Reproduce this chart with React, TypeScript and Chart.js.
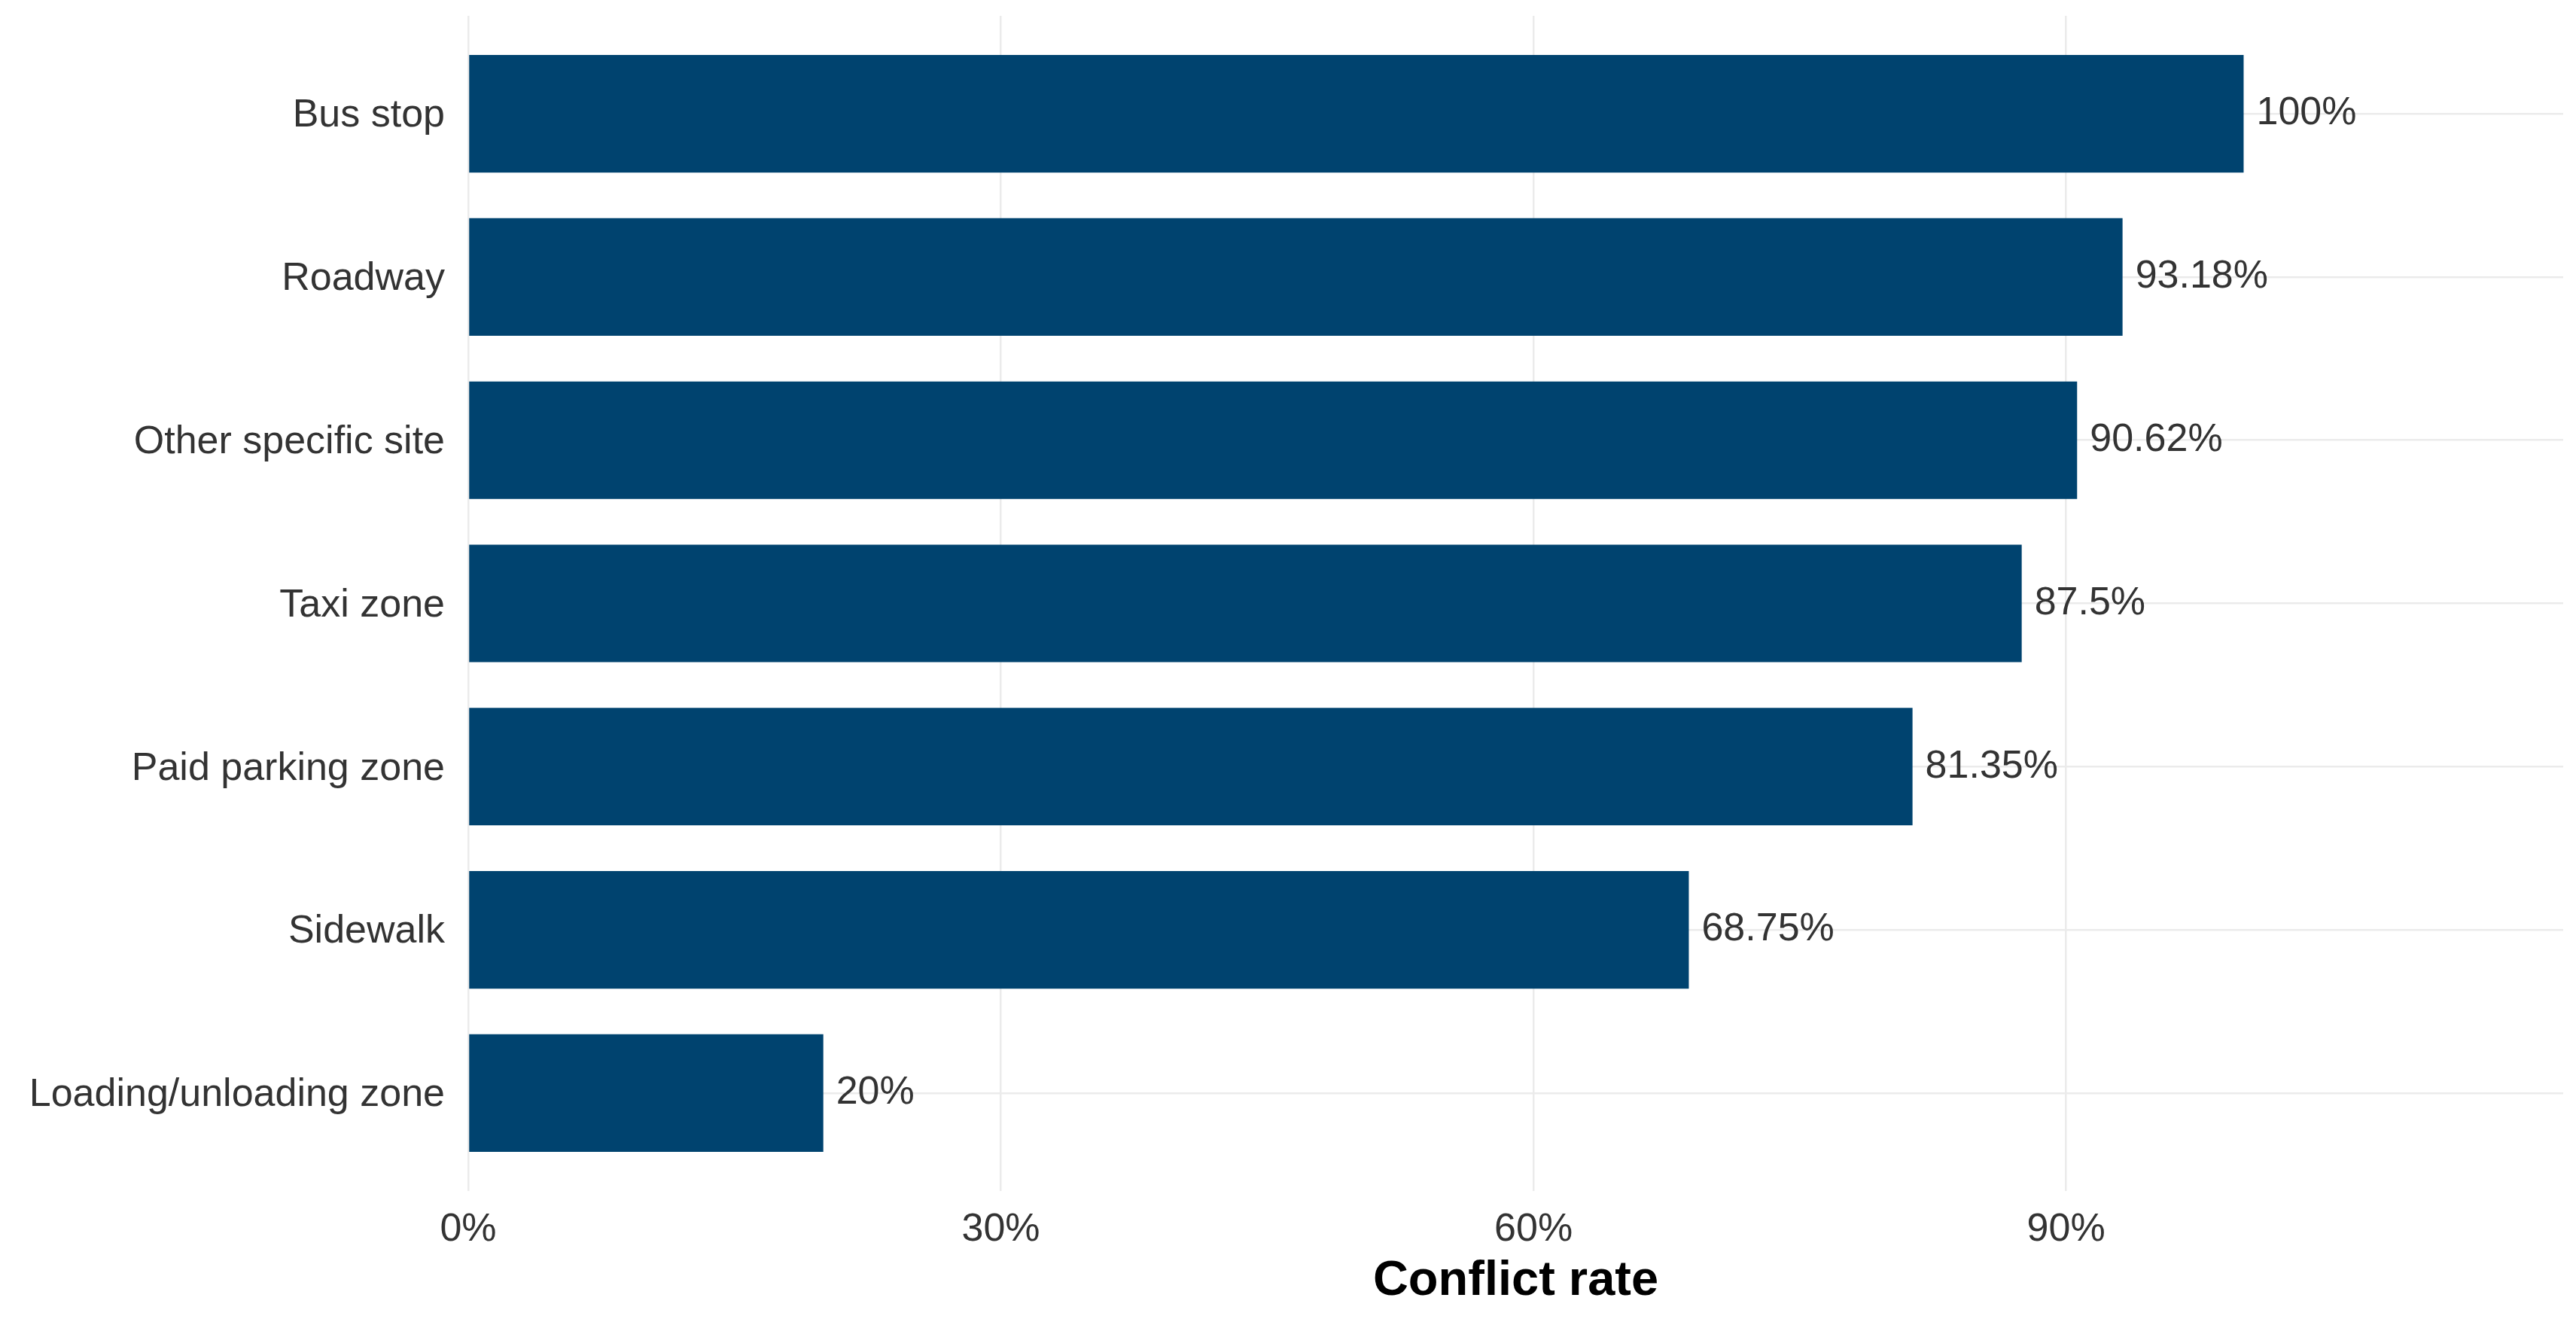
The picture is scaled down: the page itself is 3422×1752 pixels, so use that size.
import React, { useEffect, useRef } from 'react';
import { Chart, Plugin, registerables } from 'chart.js';

Chart.register(...registerables);

const sites = [
  'Bus stop',
  'Roadway',
  'Other specific site',
  'Taxi zone',
  'Paid parking zone',
  'Sidewalk',
  'Loading/unloading zone',
];
const conflictRates = [100, 93.18, 90.62, 87.5, 81.35, 68.75, 20];
const rateTicks = [0, 30, 60, 90];

const FONT = '"Liberation Sans", Arial, sans-serif';
const TEXT = '#333333';
const GRID = '#ebebeb';
const BAR = '#00436f';

// percentage labels just right of every bar end
const valueLabels: Plugin<'bar'> = {
  id: 'valueLabels',
  afterDatasetsDraw(chart) {
    const { ctx } = chart;
    const meta = chart.getDatasetMeta(0);
    ctx.save();
    ctx.font = `52px ${FONT}`;
    ctx.fillStyle = TEXT;
    ctx.textAlign = 'left';
    ctx.textBaseline = 'middle';
    meta.data.forEach((bar, i) => {
      const { x, y } = bar.getProps(['x', 'y'], true);
      ctx.fillText(`${conflictRates[i]}%`, x + 17, y);
    });
    ctx.restore();
  },
};

const ConflictChart: React.FC = () => {
  const canvasRef = useRef<HTMLCanvasElement>(null);
  const chartRef = useRef<Chart | null>(null);

  useEffect(() => {
    document.body.style.margin = '0';
    if (!canvasRef.current) return;
    const ctx = canvasRef.current.getContext('2d');
    if (!ctx) return;

    chartRef.current = new Chart(ctx, {
      type: 'bar',
      data: {
        datasets: [
          {
            data: sites.map((_, i) => ({ x: conflictRates[i], y: i + 1 })),
            backgroundColor: BAR,
            borderWidth: 0,
            barPercentage: 0.72,
            categoryPercentage: 1,
          },
        ],
      },
      options: {
        indexAxis: 'y',
        animation: false,
        responsive: true,
        maintainAspectRatio: false,
        layout: { padding: { left: 0, right: 17, top: 21, bottom: 0 } },
        plugins: {
          legend: { display: false },
          tooltip: { enabled: false },
        },
        scales: {
          x: {
            type: 'linear',
            min: 0,
            max: 118,
            afterBuildTicks: (scale) => {
              scale.ticks = rateTicks.map((value) => ({ value }));
            },
            afterFit: (scale) => {
              scale.height = 170;
              scale.paddingLeft = 0;
              scale.paddingRight = 0;
            },
            grid: { color: GRID, lineWidth: 2.5, drawTicks: false },
            border: { display: false },
            ticks: {
              padding: 20,
              color: TEXT,
              font: { family: FONT, size: 52 },
              callback: (value) => `${value}%`,
            },
            title: {
              display: true,
              text: 'Conflict rate',
              color: '#000000',
              font: { family: FONT, size: 65, weight: 'bold' },
              padding: { top: 4, bottom: 11 },
            },
          },
          y: {
            type: 'linear',
            min: 0.4,
            max: 7.6,
            reverse: true,
            offset: false,
            afterBuildTicks: (scale) => {
              scale.ticks = sites.map((_, i) => ({ value: i + 1 }));
            },
            afterFit: (scale) => {
              scale.width = 622;
              scale.paddingTop = 0;
              scale.paddingBottom = 0;
            },
            grid: { color: GRID, lineWidth: 2.5, drawTicks: false, offset: false },
            border: { display: false },
            ticks: {
              padding: 31,
              labelOffset: 3,
              color: TEXT,
              font: { family: FONT, size: 52 },
              callback: (value) => sites[Number(value) - 1] ?? '',
            },
          },
        },
      },
      plugins: [valueLabels],
    });

    return () => {
      if (chartRef.current) {
        chartRef.current.destroy();
        chartRef.current = null;
      }
    };
  }, []);

  return (
    <div style={{ position: 'relative', width: '3422px', height: '1752px', background: '#ffffff' }}>
      <canvas ref={canvasRef}></canvas>
    </div>
  );
};

export default function App() {
  return <ConflictChart />;
}
